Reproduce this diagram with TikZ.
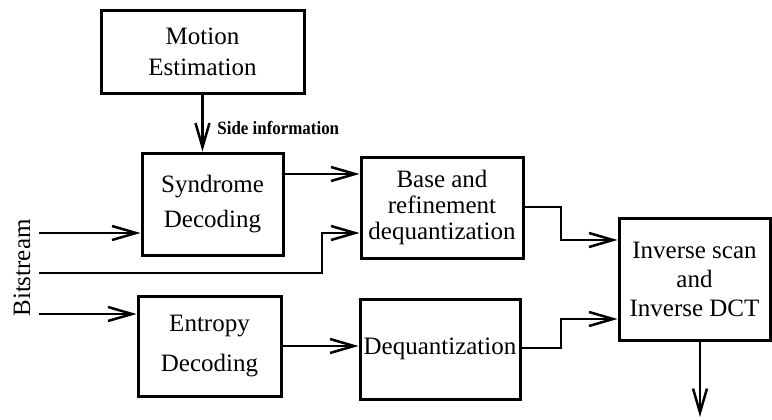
\documentclass[tikz,border=0pt]{standalone}
\usepackage{fontspec}
\usepackage{graphicx}
\setmainfont{Liberation Serif}
\usetikzlibrary{arrows.meta}
\begin{document}
\begin{tikzpicture}[x=0.5pt,y=-0.5pt,
  blk/.style={draw,line width=1.5pt,inner sep=0pt,align=center},
  arr/.style={line width=1.25pt,-{Straight Barb[length=12pt,width=7pt,line width=1.25pt]}},
  txt/.style={font=\fontsize{12.5}{15}\selectfont}]
\useasboundingbox (0,0) rectangle (772,419);
\node[blk,minimum width=101.5pt,minimum height=41.5pt,font=\fontsize{12.5}{15.5}\selectfont] (me) at (202.5,51.5) {Motion\\Estimation};
\node[blk,minimum width=70.5pt,minimum height=51pt,font=\fontsize{12.5}{17.5}\selectfont] (sd) at (212.5,204) {Syndrome\\Decoding};
\node[blk,minimum width=81pt,minimum height=50.5pt,font=\fontsize{12.5}{13}\selectfont] (br) at (442,207.5) {Base and\\refinement\\dequantization};
\node[blk,minimum width=71.5pt,minimum height=50pt,font=\fontsize{12.5}{20}\selectfont] (ed) at (209.5,346) {Entropy\\Decoding};
\node[blk,minimum width=80pt,minimum height=50pt,font=\fontsize{12.5}{15}\selectfont] (dq) at (440,349) {Dequantization};
\node[blk,minimum width=75.5pt,minimum height=61pt,font=\fontsize{12.5}{14.5}\selectfont] (is) at (694.5,279) {Inverse scan\\and\\Inverse DCT};
\node[txt,rotate=90] (bs) at (22,268) {Bitstream};
\node[anchor=west,inner sep=0pt,font=\fontsize{9.4}{11}\selectfont\bfseries] (si) at (217,128) {\scalebox{0.9}[1]{Side information}};
\coordinate (b1) at (39,233);
\coordinate (b2) at (39,273);
\coordinate (b3) at (39,314);
\coordinate (out) at (700,417);
\draw[arr] (me.south) -- (me.south |- sd.north);
\draw[arr] (sd.east |- 0,174) -- (br.west |- 0,174);
\draw[arr] (b1) -- (sd.west |- b1);
\draw[arr] (b2) -| (322,233) -- (br.west |- 0,233);
\draw[arr] (b3) -- (ed.west |- b3);
\draw[arr] (ed.east |- 0,346) -- (dq.west |- 0,346);
\draw[arr] (br.east |- 0,207) -| (561,240) -- (is.west |- 0,240);
\draw[arr] (dq.east |- 0,348) -| (561,319) -- (is.west |- 0,319);
\draw[arr] (out |- is.south) -- (out);
\end{tikzpicture}
\end{document}
